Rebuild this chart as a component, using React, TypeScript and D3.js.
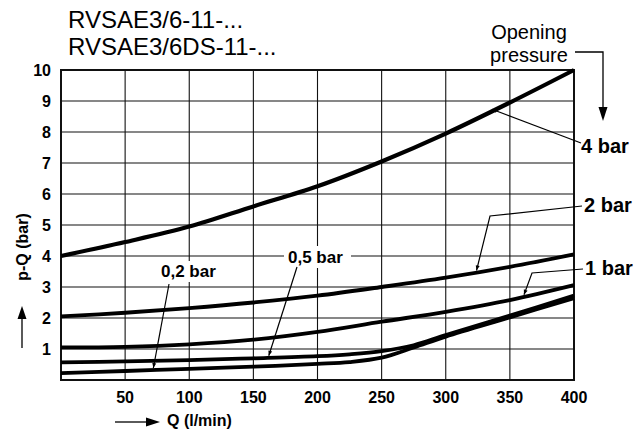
import React from "react";
import * as d3 from "d3";

// ---- Data ----
const Q_STD = [0, 50, 100, 150, 200, 250, 300, 350, 400];
const P_4BAR = [4.0, 4.45, 4.95, 5.6, 6.25, 7.05, 7.95, 8.95, 10.0];
const P_2BAR = [2.05, 2.17, 2.32, 2.5, 2.72, 3.0, 3.3, 3.65, 4.05];
const P_1BAR = [1.05, 1.07, 1.15, 1.3, 1.55, 1.88, 2.2, 2.58, 3.06];
const Q_LOW = [0, 50, 100, 150, 200, 225, 250, 275, 300, 350, 400];
const P_05BAR = [0.57, 0.6, 0.64, 0.7, 0.77, 0.83, 0.93, 1.12, 1.45, 2.08, 2.72];
const P_02BAR = [0.22, 0.29, 0.36, 0.43, 0.52, 0.58, 0.72, 1.05, 1.4, 2.02, 2.64];

const X_TICKS = [50, 100, 150, 200, 250, 300, 350, 400];
const Y_TICKS = [1, 2, 3, 4, 5, 6, 7, 8, 9, 10];

const TITLE_LINES = ["RVSAE3/6-11-...", "RVSAE3/6DS-11-..."];
const LEGEND_TITLE = ["Opening", "pressure"];
const X_LABEL = "Q (l/min)";
const Y_LABEL = "p-Q (bar)";

const SERIES_LABELS = ["4 bar", "2 bar", "1 bar", "0,5 bar", "0,2 bar"];
// Q at which each label's leader touches its curve
const LEADER_Q = [336, 324, 361, 162, 72];

const W = 638;
const H = 435;
const FONT = "'Liberation Sans', Arial, Helvetica, sans-serif";

const x = d3.scaleLinear().domain([0, 400]).range([61, 574]);
const y = d3.scaleLinear().domain([0, 10]).range([380, 70]);

const line = d3
  .line<[number, number]>()
  .x((d) => x(d[0]))
  .y((d) => y(d[1]))
  .curve(d3.curveCatmullRom.alpha(0.5));

function interp(qs: number[], ps: number[], q: number) {
  for (let i = 0; i < qs.length - 1; i++) {
    if (q >= qs[i] && q <= qs[i + 1]) {
      const t = (q - qs[i]) / (qs[i + 1] - qs[i]);
      return ps[i] + t * (ps[i + 1] - ps[i]);
    }
  }
  return ps[ps.length - 1];
}

function arrowHead(fx: number, fy: number, tx: number, ty: number, len: number, half: number) {
  const dx = tx - fx;
  const dy = ty - fy;
  const L = Math.hypot(dx, dy) || 1;
  const ux = dx / L;
  const uy = dy / L;
  const bx = tx - ux * len;
  const by = ty - uy * len;
  const px = -uy;
  const py = ux;
  return `M${tx},${ty}L${bx + px * half},${by + py * half}L${bx - px * half},${by - py * half}Z`;
}

export default function App() {
  const series = [
    { qs: Q_STD, ps: P_4BAR, w: 4.2 },
    { qs: Q_STD, ps: P_2BAR, w: 3.8 },
    { qs: Q_STD, ps: P_1BAR, w: 3.8 },
    { qs: Q_LOW, ps: P_05BAR, w: 3.8 },
    { qs: Q_LOW, ps: P_02BAR, w: 3.8 },
  ];

  const tips = series.map((s, i) => {
    const q = LEADER_Q[i];
    return [x(q), y(interp(s.qs, s.ps, q)) - 2] as [number, number];
  });

  // leader polylines (label side first, tip last)
  const leaders: [number, number][][] = [
    [[581, 143], tips[0]],
    [[582, 206], [490, 216], tips[1]],
    [[583, 269], [532, 273], tips[2]],
    [[297, 267], tips[3]],
    [[169, 284], tips[4]],
  ];

  const labelPos = [
    { x: 581, y: 153, size: 20 },
    { x: 584, y: 212, size: 20 },
    { x: 585, y: 275, size: 20 },
    { x: 288, y: 263, size: 17 },
    { x: 161, y: 277, size: 17 },
  ];

  return (
    <svg
      width={W}
      height={H}
      style={{ position: "absolute", left: 0, top: 0, background: "#fff" }}
      fontFamily={FONT}
    >
      <rect x={0} y={0} width={W} height={H} fill="#fff" />

      {/* grid */}
      {X_TICKS.filter((t) => t < 400).map((t) => (
        <line key={"gx" + t} x1={x(t)} x2={x(t)} y1={y(0)} y2={y(10)} stroke="#111" strokeWidth={1.1} />
      ))}
      {Y_TICKS.filter((t) => t < 10).map((t) => (
        <line key={"gy" + t} x1={x(0)} x2={x(400)} y1={y(t)} y2={y(t)} stroke="#111" strokeWidth={1.1} />
      ))}

      {/* white backgrounds behind inner labels */}
      <rect x={284} y={246} width={67} height={22} fill="#fff" />
      <rect x={158} y={261} width={62} height={21} fill="#fff" />

      {/* frame */}
      <rect x={x(0)} y={y(10)} width={x(400) - x(0)} height={y(0) - y(10)} fill="none" stroke="#111" strokeWidth={2} />

      {/* curves */}
      {series.map((s, i) => (
        <path
          key={"s" + i}
          d={line(s.qs.map((q, j) => [q, s.ps[j]] as [number, number])) || ""}
          fill="none"
          stroke="#000"
          strokeWidth={s.w}
        />
      ))}

      {/* leaders */}
      {leaders.map((pts, i) => {
        const n = pts.length;
        return (
          <g key={"l" + i}>
            <polyline points={pts.map((p) => p.join(",")).join(" ")} fill="none" stroke="#000" strokeWidth={1.2} />
            <path d={arrowHead(pts[n - 2][0], pts[n - 2][1], pts[n - 1][0], pts[n - 1][1], 5, 2)} fill="#000" />
          </g>
        );
      })}

      {/* series labels */}
      {SERIES_LABELS.map((lab, i) => (
        <text key={"t" + i} x={labelPos[i].x} y={labelPos[i].y} fontSize={labelPos[i].size} fontWeight="bold" fill="#000">
          {lab}
        </text>
      ))}

      {/* y tick labels */}
      {Y_TICKS.map((t) => (
        <text key={"yt" + t} x={51} y={y(t) + 6} fontSize={16} fontWeight="bold" textAnchor="end" fill="#000">
          {t}
        </text>
      ))}
      {/* x tick labels */}
      {X_TICKS.map((t) => (
        <text key={"xt" + t} x={x(t)} y={403} fontSize={16} fontWeight="bold" textAnchor="middle" fill="#000">
          {t}
        </text>
      ))}

      {/* titles */}
      {TITLE_LINES.map((t, i) => (
        <text key={"ti" + i} x={68} y={28 + i * 27} fontSize={24} fill="#000">
          {t}
        </text>
      ))}

      {/* opening pressure */}
      {LEGEND_TITLE.map((t, i) => (
        <text key={"lt" + i} x={529} y={39 + i * 23} fontSize={20} textAnchor="middle" fill="#000">
          {t}
        </text>
      ))}
      <polyline points="575,52 603,52 603,108" fill="none" stroke="#000" strokeWidth={1.3} />
      <path d={arrowHead(603, 100, 603, 121, 14, 4.5)} fill="#000" />

      {/* axis labels with arrows */}
      <text x={167} y={426} fontSize={16} fontWeight="bold" fill="#000">
        {X_LABEL}
      </text>
      <line x1={115} x2={147} y1={422} y2={422} stroke="#000" strokeWidth={1.3} />
      <path d={arrowHead(140, 422, 160, 422, 14, 4.5)} fill="#000" />

      <text
        x={0}
        y={0}
        transform={`translate(28,247) rotate(-90)`}
        fontSize={16}
        fontWeight="bold"
        textAnchor="middle"
        fill="#000"
      >
        {Y_LABEL}
      </text>
      <line x1={22} x2={22} y1={348} y2={318} stroke="#000" strokeWidth={1.3} />
      <path d={arrowHead(22, 330, 22, 306, 13, 4.5)} fill="#000" />
    </svg>
  );
}
